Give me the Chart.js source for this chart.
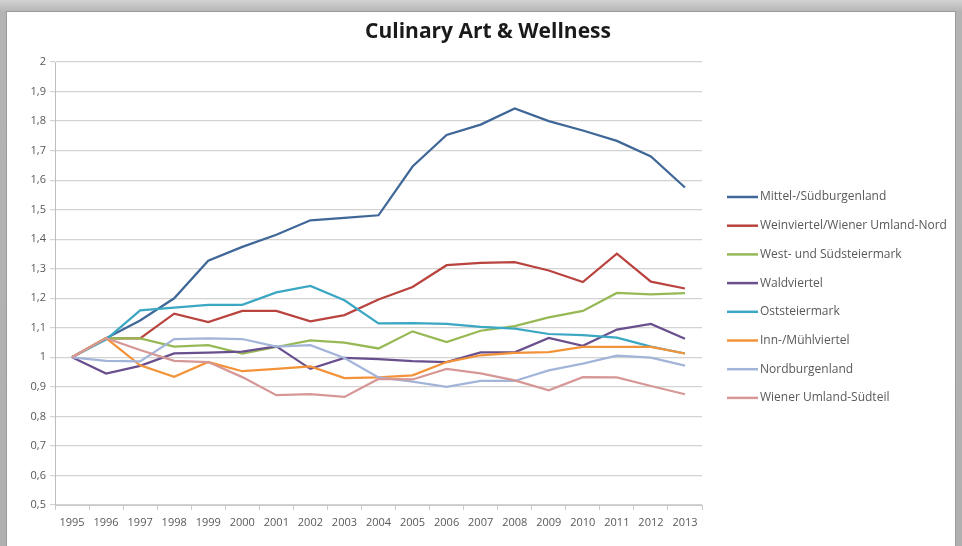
<!DOCTYPE html>
<html>
<head>
<meta charset="utf-8">
<title>Culinary Art &amp; Wellness</title>
<script src="https://cdn.jsdelivr.net/npm/chart.js@4.4.1/dist/chart.umd.min.js"></script>
<style>
  html, body { margin: 0; padding: 0; }
  body {
    width: 962px; height: 546px; overflow: hidden;
    background: linear-gradient(#d2d2d2, #b4b4b4 12px, #b0b0b0);
    position: relative;
  }
  #frame {
    position: absolute; left: 7px; top: 12px; width: 948px; height: 534px;
    background: #fff; box-shadow: 0 0 0 1px #9a9a9a;
  }
  canvas { display: block; }
</style>
</head>
<body>
<div id="frame"><canvas id="chart" width="948" height="534"></canvas></div>
<script>
  // Jahre (Kategorien)
  const years = ['1995', '1996', '1997', '1998', '1999', '2000', '2001', '2002', '2003', '2004',
    '2005', '2006', '2007', '2008', '2009', '2010', '2011', '2012', '2013'];

  // Indexwerte je Region (1995 = 1)
  const mittelSued = [1.00, 1.065, 1.125, 1.200, 1.327, 1.374, 1.415, 1.464, 1.472, 1.481,
    1.646, 1.753, 1.788, 1.843, 1.800, 1.768, 1.733, 1.680, 1.575];
  const weinviertelNord = [1.00, 1.065, 1.064, 1.148, 1.119, 1.157, 1.157, 1.122, 1.143, 1.196,
    1.238, 1.312, 1.320, 1.322, 1.294, 1.255, 1.351, 1.256, 1.233];
  const westSued = [1.00, 1.065, 1.064, 1.036, 1.041, 1.013, 1.035, 1.057, 1.050, 1.030,
    1.088, 1.052, 1.090, 1.106, 1.135, 1.157, 1.218, 1.213, 1.217];
  const waldviertel = [1.00, 0.945, 0.971, 1.013, 1.016, 1.019, 1.037, 0.961, 0.998, 0.994,
    0.987, 0.984, 1.017, 1.017, 1.066, 1.039, 1.094, 1.113, 1.063];
  const oststeiermark = [1.00, 1.060, 1.159, 1.168, 1.178, 1.178, 1.220, 1.242, 1.193, 1.115,
    1.116, 1.113, 1.103, 1.097, 1.079, 1.075, 1.067, 1.036, 1.013];
  const innMuehl = [1.00, 1.065, 0.973, 0.934, 0.984, 0.953, 0.961, 0.969, 0.930, 0.932,
    0.939, 0.984, 1.007, 1.015, 1.018, 1.035, 1.035, 1.035, 1.013];
  const nordburgenland = [1.00, 0.988, 0.986, 1.062, 1.064, 1.062, 1.036, 1.041, 0.998, 0.932,
    0.918, 0.900, 0.920, 0.920, 0.956, 0.979, 1.006, 0.999, 0.972];
  const wienerSued = [1.00, 1.065, 1.025, 0.988, 0.984, 0.933, 0.872, 0.875, 0.866, 0.927,
    0.925, 0.961, 0.946, 0.922, 0.888, 0.933, 0.932, 0.903, 0.875];

  const regionNames = ['Mittel-/Südburgenland', 'Weinviertel/Wiener Umland-Nord', 'West- und Südsteiermark',
    'Waldviertel', 'Oststeiermark', 'Inn-/Mühlviertel', 'Nordburgenland', 'Wiener Umland-Südteil'];
  const regionValues = [mittelSued, weinviertelNord, westSued, waldviertel, oststeiermark,
    innMuehl, nordburgenland, wienerSued];
  const regionColors = ['#3f6798', '#b9443f', '#97b955', '#6a4f8e', '#3ba7c3', '#f39339', '#a2b5d9', '#d69896'];

  const chartTitle = 'Culinary Art & Wellness';
  const textColor = '#595959';
  const tickFont = { family: 'Open Sans', size: 11 };

  // Titel über der ganzen Fläche und Legende rechts neben dem Diagramm
  const sideLegend = {
    id: 'sideLegend',
    afterDraw(chart) {
      const c = chart.ctx;
      c.save();
      c.fillStyle = '#1a1a1a';
      c.font = 'bold 21px "Open Sans"';
      c.textAlign = 'center';
      c.textBaseline = 'middle';
      c.fillText(chartTitle, 481, 20);

      c.textAlign = 'left';
      c.font = '12px "Open Sans"';
      chart.data.datasets.forEach((ds, i) => {
        const y = 185 + i * 28.7;
        c.strokeStyle = ds.borderColor;
        c.lineWidth = 2.5;
        c.beginPath();
        c.moveTo(720, y);
        c.lineTo(751, y);
        c.stroke();
        c.fillStyle = textColor;
        c.fillText(ds.label, 753, y);
      });
      c.restore();
    }
  };

  const ctx = document.getElementById('chart').getContext('2d');
  new Chart(ctx, {
    type: 'line',
    data: {
      labels: years,
      datasets: regionNames.map((name, i) => ({
        label: name,
        data: regionValues[i],
        borderColor: regionColors[i],
        backgroundColor: regionColors[i],
        borderWidth: 2.25,
        pointRadius: 0,
        tension: 0,
        order: regionNames.length - i
      }))
    },
    options: {
      responsive: false,
      animation: false,
      layout: { padding: { left: 0, right: 253, top: 50, bottom: 0 } },
      plugins: {
        legend: { display: false },
        tooltip: { enabled: false },
        title: { display: false }
      },
      scales: {
        x: {
          offset: true,
          grid: {
            offset: true,
            drawOnChartArea: false,
            drawTicks: true,
            tickLength: 5,
            color: '#c8c8c8'
          },
          border: { color: '#c8c8c8' },
          ticks: {
            color: textColor,
            font: tickFont,
            autoSkip: false,
            maxRotation: 0,
            padding: 6
          },
          afterFit(scale) { scale.height = 41; }
        },
        y: {
          min: 0.5,
          max: 2,
          grid: { color: '#d3d3d3', tickLength: 5, lineWidth: 1.2 },
          border: { color: '#bdbdbd' },
          ticks: {
            stepSize: 0.1,
            color: textColor,
            font: tickFont,
            padding: 4,
            callback: (v) => String(Math.round(v * 10) / 10).replace('.', ',')
          },
          afterFit(scale) { scale.width = 48; }
        }
      }
    },
    plugins: [sideLegend]
  });
</script>
</body>
</html>
